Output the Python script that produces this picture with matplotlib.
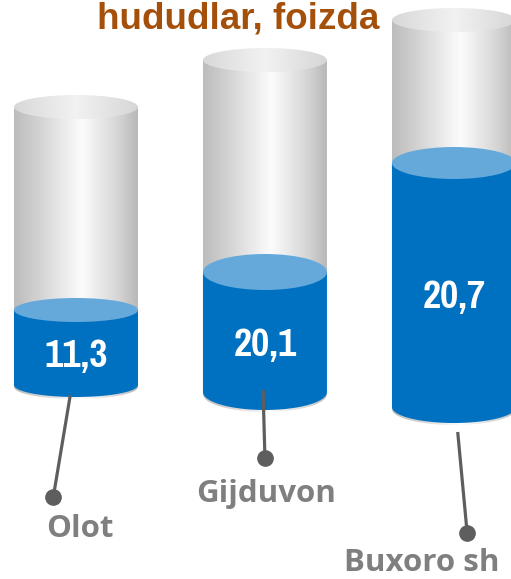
import numpy as np
import matplotlib
matplotlib.use("Agg")
import matplotlib.pyplot as plt
from matplotlib import font_manager
from matplotlib.patches import Ellipse, Polygon
from matplotlib.colors import LinearSegmentedColormap

regions = ["Olot", "Gijduvon", "Buxoro sh"]
values = [11.3, 20.1, 20.7]
tank_base = [194, 187, 172]     # bottom of each cylinder
fill_level = [269, 307, 416]    # top of the blue fill
tank_top = [472, 519, 559]      # top of the grey tank

title = "hududlar, foizda"

BLUE = "#0070C0"
BLUE_TOP = "#65A9DB"
PIN = "#5E5E5E"
LABEL = "#7F7F7F"

body_cmap = LinearSegmentedColormap.from_list(
    "tank", [(0, "#bcbcbc"), (0.18, "#d0d0d0"), (0.55, "#fcfcfc"),
             (0.85, "#d4d4d4"), (1, "#b8b8b8")])
lid_cmap = LinearSegmentedColormap.from_list(
    "lid", [(0, "#d8d8d8"), (0.5, "#f2f2f2"), (1, "#d6d6d6")])

W = 0.656          # cylinder width in category units
RY = [12, 18, 16]  # half height of the blue ellipses
RY_TOP = 12


def narrow_bold_font():
    # look for a condensed bold face for the value labels
    best = None
    for f in font_manager.fontManager.ttflist:
        name = f.name.lower()
        stretch = str(f.stretch).lower()
        narrow = "narrow" in name or "condensed" in name or "condensed" in stretch
        bold = f.weight in ("bold", 700) or (isinstance(f.weight, int) and f.weight >= 700)
        if narrow and bold and "oblique" not in f.style and "italic" not in f.style:
            if best is None or "narrow" in name:
                best = f.fname
    if best:
        return font_manager.FontProperties(fname=best, size=31)
    return font_manager.FontProperties(family="DejaVu Sans", weight="bold", size=22)


fig = plt.figure(figsize=(5.11, 5.79), dpi=100)
ax = fig.add_axes([0, 0, 1, 1])
ax.set_xlim(-0.402, 2.302)
ax.set_ylim(0, 579)
ax.axis("off")

value_font = narrow_bold_font()


def body_path(cx, top, base, ry):
    t = np.linspace(0, np.pi, 60)
    xs = np.concatenate([[cx - W / 2, cx + W / 2], cx + W / 2 * np.cos(t)])
    ys = np.concatenate([[top, top], base - ry * np.sin(t)])
    return np.column_stack([xs, ys])


grad = np.linspace(0, 1, 256).reshape(1, -1)

for i, (b, f, t, v) in enumerate(zip(tank_base, fill_level, tank_top, values)):
    ry = RY[i]
    # grey tank
    poly = Polygon(body_path(i, t, b - 2, ry), closed=True, facecolor="none",
                   edgecolor="none")
    ax.add_patch(poly)
    im = ax.imshow(grad, cmap=body_cmap, aspect="auto", zorder=1,
                   extent=(i - W / 2, i + W / 2, b - ry - 3, t))
    im.set_clip_path(poly)
    lid = Ellipse((i, t), W, 2 * RY_TOP, facecolor="none", edgecolor="none")
    ax.add_patch(lid)
    im2 = ax.imshow(grad, cmap=lid_cmap, aspect="auto", zorder=2,
                    extent=(i - W / 2, i + W / 2, t - RY_TOP, t + RY_TOP))
    im2.set_clip_path(lid)

    # blue fill
    ax.add_patch(Polygon(body_path(i, f, b, ry), closed=True,
                         facecolor=BLUE, edgecolor="none", zorder=3))
    ax.add_patch(Ellipse((i, f), W, 2 * ry, facecolor=BLUE_TOP,
                         edgecolor="none", zorder=4))
    ax.text(i, (f + b) / 2 - 0.75 * ry, f"{v:.1f}".replace(".", ","),
            color="white", fontproperties=value_font,
            ha="center", va="center", zorder=6)

# leader lines with pins and region names
pin_start = [(-0.03, 184), (0.99, 189), (2.02, 147)]
pin_end = [(-0.12, 82), (1.0, 121), (2.07, 46)]
label_pos = [(0.02, 50), (1.005, 85), (1.83, 16)]
for (x0, y0), (x1, y1), (lx, ly), name in zip(pin_start, pin_end, label_pos, regions):
    ax.plot([x0, x1], [y0, y1], color=PIN, lw=2.3, zorder=5,
            solid_capstyle="butt")
    ax.plot(x1, y1, "o", color=PIN, ms=11, zorder=5)
    ax.text(lx, ly, name, color=LABEL, fontsize=22.5, fontweight="bold",
            family="Open Sans", ha="center", va="center")

fig.text(238 / 511, 551 / 579, title, color="#A5500A", fontsize=26.5,
         fontweight="bold", family="Liberation Sans", ha="center",
         va="baseline")

fig.savefig("out.png", dpi=100)
